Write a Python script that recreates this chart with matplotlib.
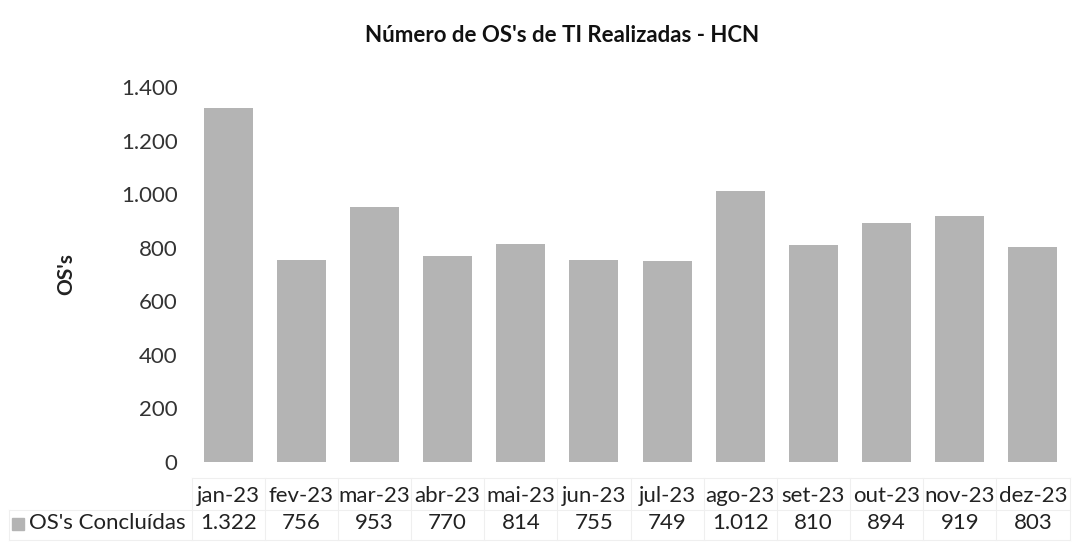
import matplotlib.pyplot as plt
import matplotlib.transforms as mtransforms
from matplotlib.patches import Rectangle

# dados
meses = ["jan-23", "fev-23", "mar-23", "abr-23", "mai-23", "jun-23",
         "jul-23", "ago-23", "set-23", "out-23", "nov-23", "dez-23"]
os_concluidas = [1322, 756, 953, 770, 814, 755, 749, 1012, 810, 894, 919, 803]
serie_nome = "OS's Concluídas"
titulo = "Número de OS's de TI Realizadas - HCN"
y_ticks = [0, 200, 400, 600, 800, 1000, 1200, 1400]

plt.rcParams['font.family'] = ['Lato', 'DejaVu Sans']

def fmt_br(v):
    return f"{v:,.0f}".replace(",", ".")

fig = plt.figure(figsize=(10.76, 5.48), dpi=100)
ax = fig.add_axes([0.178, 0.157, 0.816, 0.684])

x = list(range(len(meses)))
cor = '#b4b4b4'
ax.bar(x, os_concluidas, width=0.67, color=cor, edgecolor='none')

ax.set_xlim(-0.5, len(meses) - 0.5)
ax.set_ylim(0, 1400)
ax.set_yticks(y_ticks)
ax.set_yticklabels([fmt_br(t) for t in y_ticks], fontsize=16, color='#333333')
ax.tick_params(axis='y', length=0, pad=10)
ax.set_xticks([])
for s in ax.spines.values():
    s.set_visible(False)

ax.set_ylabel("OS's", fontsize=15, fontweight='bold', labelpad=32, color='#222222')
fig.text(0.522, 0.935, titulo, ha='center', va='center', fontsize=16,
         fontweight='bold', color='#111111')

# tabela de dados abaixo do grafico
tr = mtransforms.blended_transform_factory(ax.transData, fig.transFigure)
y_cat = 1 - 496 / 548
y_val = 1 - 523 / 548
for i, (m, v) in enumerate(zip(meses, os_concluidas)):
    ax.text(i, y_cat, m, transform=tr, ha='center', va='center', fontsize=16,
            color='#222222', clip_on=False)
    ax.text(i, y_val, fmt_br(v), transform=tr, ha='center', va='center',
            fontsize=16, color='#222222', clip_on=False)

# linhas finas da tabela
linha = '#efefef'
y_top = 1 - 478 / 548
y_mid = 1 - 510 / 548
y_bot = 1 - 540 / 548
for i in range(len(meses) + 1):
    ax.plot([i - 0.5, i - 0.5], [y_bot, y_top], transform=tr, color=linha,
            lw=0.8, clip_on=False)
ax.plot([-0.5, len(meses) - 0.5], [y_top, y_top], transform=tr, color=linha, lw=0.8, clip_on=False)
fig.add_artist(plt.Line2D([0.008, 0.994], [y_mid, y_mid], color=linha, lw=0.8))
fig.add_artist(plt.Line2D([0.008, 0.994], [y_bot, y_bot], color=linha, lw=0.8))
fig.add_artist(plt.Line2D([0.008, 0.008], [y_bot, y_mid], color=linha, lw=0.8))

# legenda na tabela
fig.add_artist(Rectangle((12 / 1076, y_val - 0.012), 12 / 1076, 12 / 548,
                         transform=fig.transFigure, color=cor))
fig.text(29 / 1076, y_val, serie_nome, ha='left', va='center', fontsize=16,
         color='#222222')

fig.savefig("out.png", dpi=100)
